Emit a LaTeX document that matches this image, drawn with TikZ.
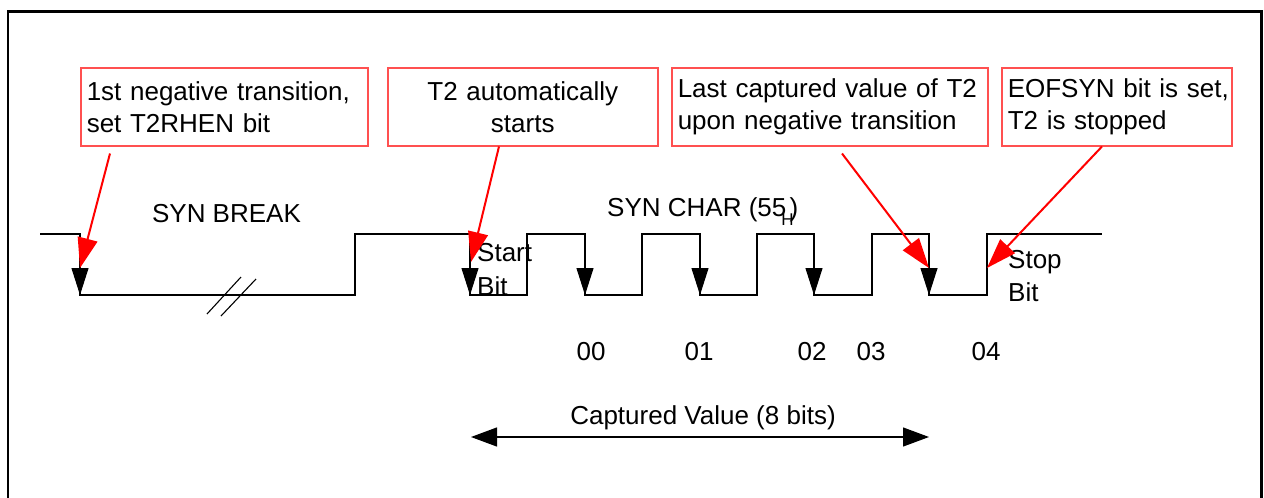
\documentclass[tikz,border=0pt]{standalone}
\usepackage{fontspec}
\setmainfont{Liberation Sans}
\usetikzlibrary{arrows.meta}
\definecolor{boxred}{RGB}{255,80,80}
\begin{document}
\begin{tikzpicture}[x=1pt,y=-1pt,
  every node/.style={font=\fontsize{26}{32}\selectfont},
  notebox/.style={draw=boxred,line width=1.5pt,minimum height=78pt,inner ysep=0pt,inner xsep=6pt,anchor=north west},
  redarrow/.style={draw=red,line width=2pt,-{Triangle[length=30pt,width=20pt]}},
  edgearrow/.style={draw=black,line width=1.1pt,-{Triangle[length=27pt,width=17pt]}},
  wave/.style={draw=black,line width=1.1pt},
  dimarrow/.style={draw=black,line width=1.2pt,{Triangle[length=26pt,width=19pt]}-{Triangle[length=26pt,width=19pt]}},
  frame/.style={draw=black,line width=2.7pt},
  plain/.style={inner sep=0pt}]
\useasboundingbox (0,0) rectangle (1264,498);
\draw[frame] (8,498) -- (8,11.5) -- (1261.5,11.5) -- (1261.5,498);

% annotation boxes
\node[notebox,text width=275pt,align=left] (b1) at (80,67) {\mbox{1st negative transition,}\\set T2RHEN bit};
\node[notebox,text width=258pt,align=center] (b2) at (387,67) {T2 automatically\\starts};
\node[notebox,text width=304pt,align=left] (b3) at (671,67) {\mbox{Last captured value of T2}\\upon negative transition};
\node[notebox,text width=218pt,align=left] (b4) at (1001,67) {\mbox{EOFSYN bit is set,}\\T2 is stopped};

% waveform
\draw[wave] (40,234) -- (80,234) -- (80,295) -- (355,295) -- (355,234) -- (470,234)
  -- (470,295) -- (527,295) -- (527,234) -- (585,234) -- (585,295) -- (642,295)
  -- (642,234) -- (700,234) -- (700,295) -- (757,295) -- (757,234) -- (814,234)
  -- (814,295) -- (872,295) -- (872,234) -- (929,234) -- (929,295) -- (987,295)
  -- (987,234) -- (1102,234);
\foreach \x in {80,470,585,700,814,929}
  \draw[edgearrow] (\x,234) -- (\x,295);

% break mark
\draw[wave] (207,314) -- (241,277);
\draw[wave] (221,316) -- (256,279);

% labels
\node[plain,anchor=base] (synbreak) at (226.5,222) {SYN BREAK};
\node[plain,anchor=base west] (synchar) at (607,216) {SYN CHAR (55\kern-5pt\raisebox{-9pt}{\fontsize{17}{17}\selectfont H}\kern-4pt)};
\node[plain,anchor=north west,align=left,font=\fontsize{26}{34}\selectfont] (startbit) at (477,243) {Start\\Bit};
\node[plain,anchor=north west,align=left,font=\fontsize{26}{33}\selectfont] (stopbit) at (1008,250) {Stop\\Bit};
\node[plain,anchor=base] (n0) at (591,360) {00};
\node[plain,anchor=base] (n1) at (699,360) {01};
\node[plain,anchor=base] (n2) at (812,360) {02};
\node[plain,anchor=base] (n3) at (871,360) {03};
\node[plain,anchor=base] (n4) at (986,360) {04};
\node[plain,anchor=base] (cap) at (703,424) {Captured Value (8 bits)};

% arrow targets
\coordinate (t1) at (80,268);
\coordinate (t2) at (471,262);
\coordinate (t3) at (929,268);
\coordinate (t4) at (987,268);
\draw[redarrow] ([xshift=30pt,yshift=-7pt]b1.south west) -- (t1);
\draw[redarrow] ([xshift=112pt]b2.south west) -- (t2);
\draw[redarrow] ([xshift=171pt,yshift=-7pt]b3.south west) -- (t3);
\draw[redarrow] ([xshift=101pt]b4.south west) -- (t4);

% captured value span
\coordinate (cl) at (471,437);
\coordinate (cr) at (929,437);
\draw[dimarrow] (cl) -- (cr);
\end{tikzpicture}
\end{document}
